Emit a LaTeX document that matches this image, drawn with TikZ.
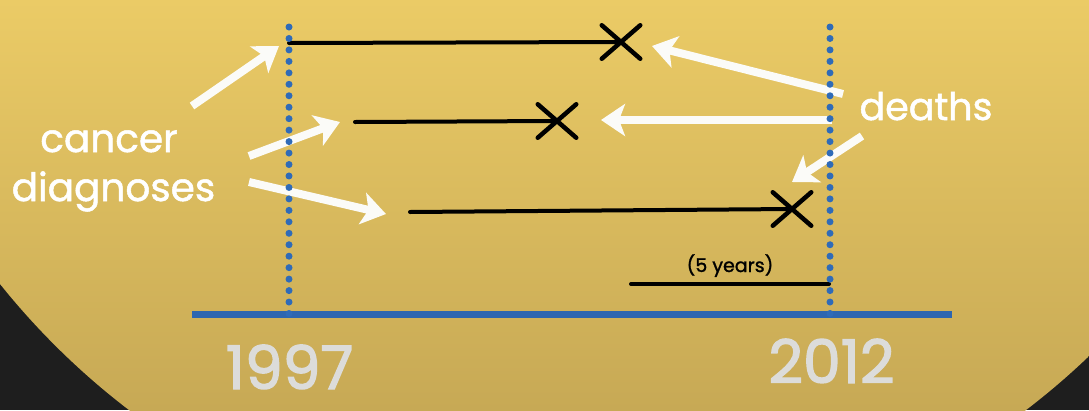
\documentclass[tikz,border=0pt]{standalone}
\usepackage{fontspec}
\setmainfont{Poppins}
\newfontfamily\medfont[FakeBold=1.3]{Poppins}
\newfontfamily\yearfont[FakeBold=2.2]{Poppins}
\usetikzlibrary{arrows.meta,shapes.misc}
\definecolor{bgtop}{HTML}{EBCB66}
\definecolor{bgbot}{HTML}{C7A955}
\definecolor{dark}{HTML}{1E1E1E}
\definecolor{axisblue}{HTML}{2D66B0}
\definecolor{dotblue}{HTML}{2F6BB8}
\definecolor{warrow}{HTML}{FBFBF8}
\definecolor{yeargray}{HTML}{DCDCDA}
\tikzset{
  whitearrow/.style={draw=warrow, line width=8pt, -{Stealth[length=24pt,width=32pt,inset=6pt]}},
  dotline/.style={draw=dotblue, line width=7pt, line cap=round, dash pattern=on 0pt off 11.46pt},
  lifeline/.style={draw=black, line width=4pt, line cap=round},
  deathx/.style={cross out, draw=black, line width=4.5pt, line cap=round, inner sep=0pt, minimum width=34pt, minimum height=29pt},
  lbl/.style={text=white, anchor=base, inner sep=0pt},
  yearlbl/.style={text=yeargray, anchor=base, inner sep=0pt, text depth=0pt, font=\yearfont\fontsize{60}{60}\selectfont}
}
\begin{document}
\begin{tikzpicture}[x=1pt,y=-1pt]
\useasboundingbox (0,0) rectangle (1089,410);
% background
\fill[dark] (0,0) rectangle (1089,410);
\begin{scope}
  \clip (577.5,-178) circle (739.5pt);
  \shade[top color=bgtop, bottom color=bgbot] (0,0) rectangle (1089,410);
\end{scope}
% axis
\coordinate (axL) at (192,314);
\coordinate (axR) at (952,314);
\draw[draw=axisblue, line width=7pt] (axL) -- (axR);
% labels
\node[lbl, font=\medfont\fontsize{39}{39}\selectfont] (cancer) at (109,152) {cancer};
\node[lbl, font=\medfont\fontsize{39}{39}\selectfont] (diag) at (113.5,201) {diagnoses};
\node[lbl, font=\medfont\fontsize{38}{38}\selectfont] (deaths) at (926,120) {deaths};
\node[lbl, text=black, font=\medfont\fontsize{19}{19}\selectfont] (five) at (730,272) {(5 years)};
\node[yearlbl] (y1997) at (289.5,389) {1997};
\node[yearlbl] (y2012) at (831.5,383) {2012};
% lifelines
\coordinate (s1) at (289,43);
\node[deathx] (x1) at (621,42) {};
\draw[lifeline] (s1) -- (x1.center);
\coordinate (s2) at (355,122);
\node[deathx] (x2) at (557,121) {};
\draw[lifeline] (s2) -- (x2.center);
\coordinate (s3) at (410,212);
\node[deathx] (x3) at (792,209) {};
\draw[lifeline] (s3) -- (x3.center);
\coordinate (f1) at (631,284);
\coordinate (f2) at (829,284);
\draw[lifeline] (f1) -- (f2);
% arrows from cancer diagnoses
\coordinate (ca1) at (192,106);
\coordinate (ct1) at (279,46);
\coordinate (ca2) at (249,156);
\coordinate (ct2) at (340,122);
\coordinate (ca3) at (249,182);
\coordinate (ct3) at (386,214);
\draw[whitearrow] (ca1) -- (ct1);
\draw[whitearrow] (ca2) -- (ct2);
\draw[whitearrow] (ca3) -- (ct3);
% arrows from deaths
\coordinate (da1) at (843,94);
\coordinate (dt1) at (652,46);
\coordinate (da2) at (832,120);
\coordinate (dt2) at (601,120);
\coordinate (da3) at (862,136);
\coordinate (dt3) at (792,182);
\draw[whitearrow] (da1) -- (dt1);
\draw[whitearrow] (da2) -- (dt2);
\draw[whitearrow] (da3) -- (dt3);
% dotted verticals
\coordinate (v1a) at (289,27);
\coordinate (v1b) at (289,313.5);
\coordinate (v2a) at (830,27);
\coordinate (v2b) at (830,313.5);
\draw[dotline] (v1a) -- (v1b);
\draw[dotline] (v2a) -- (v2b);
\end{tikzpicture}
\end{document}
